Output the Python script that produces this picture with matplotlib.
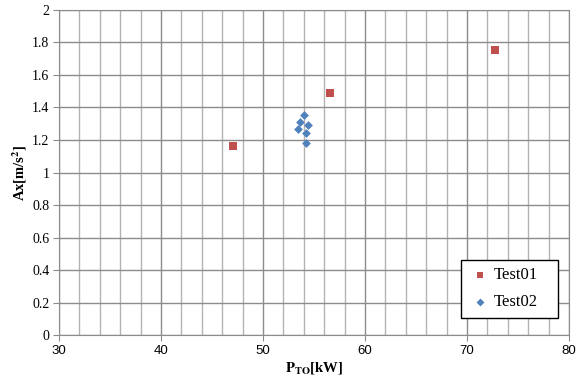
import matplotlib
matplotlib.use("Agg")
import matplotlib.pyplot as plt
import numpy as np

# Test01 points
test01_x = [47.1, 56.6, 72.7]
test01_y = [1.163, 1.487, 1.755]

# Test02 points
test02_x = [54.0, 53.6, 54.4, 53.4, 54.25, 54.2]
test02_y = [1.354, 1.311, 1.292, 1.268, 1.241, 1.182]

x_ticks = [30, 40, 50, 60, 70, 80]
y_ticks = [0, 0.2, 0.4, 0.6, 0.8, 1, 1.2, 1.4, 1.6, 1.8, 2]

plt.rcParams["mathtext.fontset"] = "stix"

fig = plt.figure(figsize=(5.82, 3.80), dpi=100)
ax = fig.add_axes([0.1014, 0.1184, 0.8763, 0.8553])

ax.scatter(test01_x, test01_y, marker="s", s=26, color="#C0504D", label="Test01",
           zorder=3, linewidths=0)
ax.scatter(test02_x, test02_y, marker="D", s=20, color="#4F81BD", label="Test02",
           zorder=3, linewidths=0)

ax.set_xlim(30, 80)
ax.set_ylim(0, 2)
ax.set_xticks(x_ticks)
ax.set_xticks(np.arange(30, 81, 2), minor=True)
ax.set_yticks(y_ticks)
ax.set_yticklabels([f"{v:g}" for v in y_ticks], family="Liberation Serif", fontsize=10)
ax.set_xticklabels([str(v) for v in x_ticks], family="Liberation Sans", fontsize=9.5)

ax.grid(which="major", color="#8c8c8c", linewidth=1.0, zorder=0)
ax.grid(which="minor", axis="x", color="#b3b3b3", linewidth=1.0, zorder=0)
ax.set_axisbelow(True)
ax.tick_params(which="major", direction="out", length=4, color="#8c8c8c", pad=3)
ax.tick_params(which="minor", length=0)
for s in ax.spines.values():
    s.set_color("#8c8c8c")

ax.set_ylabel("Ax[m/s$^\\mathbf{2}$]", family="Liberation Serif", fontweight="bold",
              fontsize=10.5, labelpad=2)
ax.set_xlabel("$\\mathbf{P_{TO}}$[kW]", family="Liberation Serif", fontweight="bold",
              fontsize=10.5, labelpad=2)

leg = ax.legend(loc="lower left", bbox_to_anchor=(0.788, 0.053, 0.19, 0.169),
                mode="expand", fancybox=False, framealpha=1, edgecolor="black",
                prop={"family": "Liberation Serif", "size": 12},
                handletextpad=0.1, labelspacing=0.65, borderaxespad=0,
                borderpad=0.45, markerscale=0.9, handlelength=1.4)
leg.get_frame().set_linewidth(1.0)

fig.savefig("out.png", dpi=100)
